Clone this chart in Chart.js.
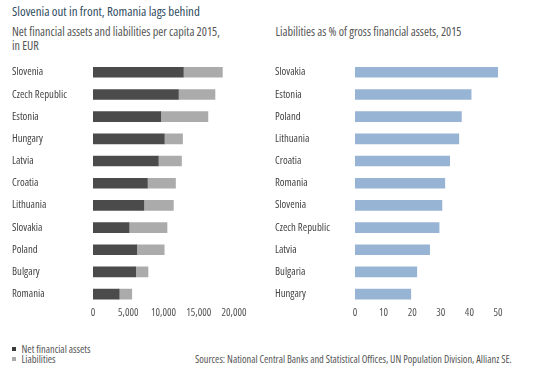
<!DOCTYPE html>
<html>
<head>
<meta charset="utf-8">
<script src="https://cdn.jsdelivr.net/npm/chart.js@4"></script>
<style>
  html, body { margin:0; padding:0; background:#fff; }
  body { width:540px; height:375px; position:relative; overflow:hidden;
         font-family:"Open Sans",sans-serif; font-stretch:condensed; }
  .t { position:absolute; white-space:nowrap; line-height:1; }
  #title { left:12px; top:5px; color:#2f4c5f; }
  #sub1a { left:12px; top:26px; color:#555; }
  #sub1b { left:12px; top:39.5px; color:#555; }
  #sub2 { left:275.5px; top:26px; color:#555; }
  .cv { position:absolute; top:50px; width:270px; height:270px; }
  #c1 { left:0; } #c2 { left:270px; }
  .sq { position:absolute; left:12px; width:4px; height:4px; }
  #leg1 { left:21.5px; top:344px; color:#555; }
  #leg2 { left:21.5px; top:354px; color:#555; }
  #src { left:195px; top:354px; color:#555; }
</style>
</head>
<body>
<div class="t" id="title">Slovenia out in front, Romania lags behind</div>
<div class="t" id="sub1a">Net financial assets and liabilities per capita 2015,</div>
<div class="t" id="sub1b">in EUR</div>
<div class="t" id="sub2">Liabilities as % of gross financial assets, 2015</div>
<div class="cv" id="c1"><canvas id="chart1"></canvas></div>
<div class="cv" id="c2"><canvas id="chart2"></canvas></div>
<div class="sq" style="top:347px;background:#3a3a3a"></div>
<div class="sq" style="top:357px;background:#aaaaaa"></div>
<div class="t" id="leg1">Net financial assets</div>
<div class="t" id="leg2">Liabilities</div>
<div class="t" id="src">Sources: National Central Banks and Statistical Offices, UN Population Division, Allianz SE.</div>
<script>
const countriesLeft = ["Slovenia","Czech Republic","Estonia","Hungary","Latvia","Croatia","Lithuania","Slovakia","Poland","Bulgary","Romania"];
const netAssets = [12800, 12100, 9600, 10100, 9250, 7700, 7200, 5100, 6200, 6050, 3700];
const liabilities = [5550, 5200, 6700, 2600, 3300, 4000, 4200, 5400, 3900, 1750, 1800];
const leftTicks = [0, 5000, 10000, 15000, 20000];

const countriesRight = ["Slovakia","Estonia","Poland","Lithuania","Croatia","Romania","Slovenia","Czech Republic","Latvia","Bulgaria","Hungary"];
const liabShare = [50.0, 40.6, 37.2, 36.3, 33.1, 31.4, 30.4, 29.4, 26.1, 21.6, 19.5];
const rightTicks = [0, 10, 20, 30, 40, 50];

// size text to the widths measured on the reference
const mctx = document.createElement('canvas').getContext('2d');
function sizeFor(text, width) {
  mctx.font = 'condensed 20px "Open Sans"';
  return 20 * width / mctx.measureText(text).width;
}
function fit(id, width) {
  const el = document.getElementById(id);
  el.style.fontSize = sizeFor(el.textContent, width).toFixed(2) + 'px';
}
fit('title', 188);
fit('sub1a', 208);
document.getElementById('sub1b').style.fontSize = document.getElementById('sub1a').style.fontSize;
fit('sub2', 186);
fit('leg1', 69);
document.getElementById('leg2').style.fontSize = document.getElementById('leg1').style.fontSize;
fit('src', 317);

const labelSize = sizeFor("Czech Republic", 55);
const tickSize = sizeFor("20,000", 25);

Chart.defaults.font.family = "'Open Sans', sans-serif";
Chart.defaults.font.weight = 'condensed';
Chart.defaults.animation = false;

function yAxis(width) {
  return {
    stacked: true,
    grid: { display:false, drawTicks:false },
    border: { display:false },
    ticks: { crossAlign:'far', color:'#444', font:{ size:labelSize, weight:'condensed' }, padding:0 },
    afterFit(s) { s.width = width; }
  };
}
function xAxis(max, step, fmt) {
  return {
    stacked: true, min:0, max:max,
    grid: { display:false, drawTicks:false },
    border: { display:false },
    ticks: { stepSize:step, color:'#555', font:{ size:tickSize, weight:'condensed' }, padding:1, callback: fmt, maxRotation:0 }
  };
}

new Chart(document.getElementById('chart1'), {
  type:'bar',
  data:{ labels: countriesLeft, datasets:[
    { label:'Net financial assets', data: netAssets, backgroundColor:'#4b4b4b', barThickness:10 },
    { label:'Liabilities', data: liabilities, backgroundColor:'#ababab', barThickness:10 }
  ]},
  options:{
    indexAxis:'y', responsive:true, maintainAspectRatio:false,
    layout:{ padding:{ left:12, right:36, top:11.2, bottom:0 } },
    plugins:{ legend:{ display:false }, tooltip:{ enabled:false } },
    scales:{
      y: yAxis(81),
      x: xAxis(20000, 5000, v => leftTicks.includes(v) ? v.toLocaleString('en-US') : '')
    }
  }
});

new Chart(document.getElementById('chart2'), {
  type:'bar',
  data:{ labels: countriesRight, datasets:[
    { label:'Liabilities as % of gross financial assets', data: liabShare, backgroundColor:'#98b4d4', barThickness:10 }
  ]},
  options:{
    indexAxis:'y', responsive:true, maintainAspectRatio:false,
    layout:{ padding:{ left:5, right:42, top:11.2, bottom:0 } },
    plugins:{ legend:{ display:false }, tooltip:{ enabled:false } },
    scales:{
      y: yAxis(80),
      x: xAxis(50, 10, v => rightTicks.includes(v) ? String(v) : '')
    }
  }
});
</script>
</body>
</html>
